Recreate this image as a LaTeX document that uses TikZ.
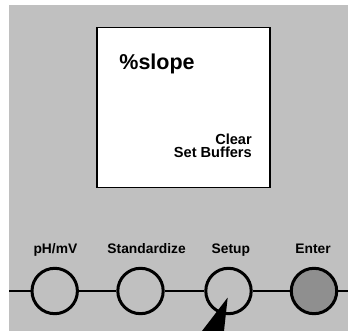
\documentclass[tikz,border=0pt]{standalone}
\usepackage{fontspec}
\setmainfont{Liberation Sans}
\definecolor{panel}{HTML}{C0C0C0}
\definecolor{enterfill}{HTML}{8F8F8F}
\begin{document}
\begin{tikzpicture}[x=1pt,y=-1pt,
  btn/.style={circle,draw=black,line width=3pt,fill=panel,minimum size=45.4pt,inner sep=0pt},
  btnlabel/.style={anchor=base,inner sep=0pt,font=\fontsize{13.8}{14}\selectfont\bfseries},
  wire/.style={line width=2.6pt},
  screentxt/.style={inner sep=0pt,align=right,font=\fontsize{14.6}{13}\selectfont\bfseries}]
\useasboundingbox (0,0) rectangle (348,331);
\fill[panel] (9,5) rectangle (348,331);
% screen
\node[draw=black,line width=1.8pt,fill=white,minimum width=173pt,minimum height=160pt,inner sep=0pt,anchor=north west] (screen) at (95.7,26.7) {};
\node[inner sep=0pt,anchor=base west,font=\fontsize{21.5}{22}\selectfont\bfseries] (slope) at (119.2,69.3) {\%slope};
\node[screentxt,anchor=base east] (menu) at (252,158) {Clear\\Set Buffers};
% buttons
\coordinate (lend) at (9,291);
\coordinate (rend) at (348,291);
\node[btn] (ph) at (54.7,291) {};
\node[btn] (std) at (140.5,291) {};
\node[btn] (setup) at (228.5,291) {};
\node[btn,fill=enterfill] (enter) at (314,291) {};
\draw[wire] (lend) -- (ph);
\draw[wire] (ph) -- (std);
\draw[wire] (std) -- (setup);
\draw[wire] (setup) -- (enter);
\draw[wire] (enter) -- (rend);
% labels
\node[btnlabel] (lph) at (55.4,253) {pH/mV};
\node[btnlabel] (lstd) at (146.6,253) {Standardize};
\node[btnlabel] (lsetup) at (230.8,253) {Setup};
\node[btnlabel] (lenter) at (313,253) {Enter};
% pointer
\coordinate (tip) at (227.7,297.5);
\coordinate (bl) at (202,331);
\coordinate (br) at (224,331);
\fill[black] (tip) -- (bl) -- (br) -- cycle;
\end{tikzpicture}
\end{document}
